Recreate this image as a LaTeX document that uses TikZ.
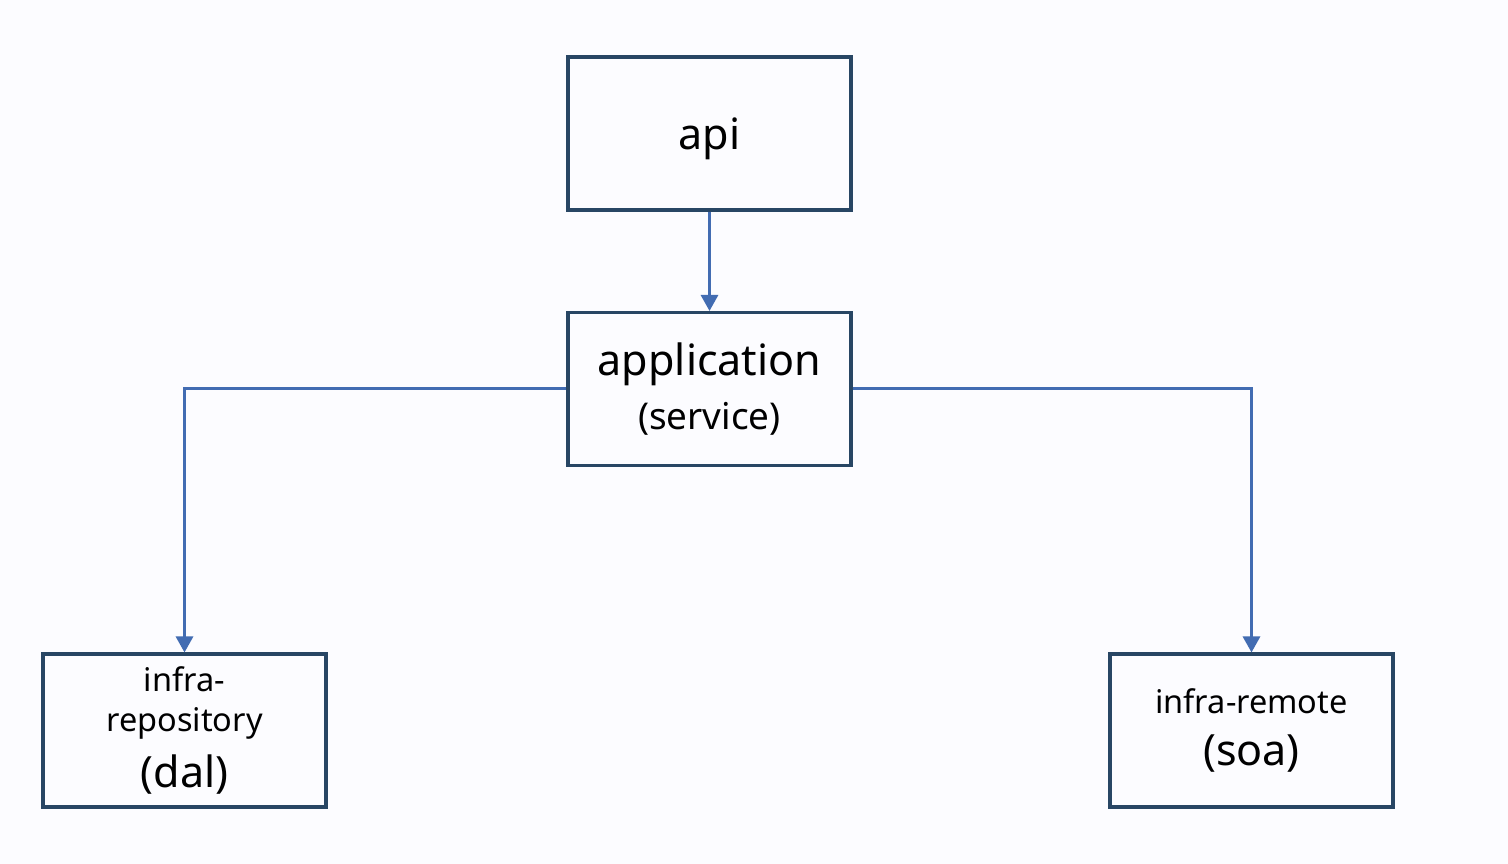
\documentclass[tikz,border=0pt]{standalone}
\usepackage{fontspec}
\setmainfont{Noto Sans}
\usepackage{tikz}
\usetikzlibrary{arrows.meta}
\definecolor{pagebg}{RGB}{252,252,255}
\definecolor{boxline}{RGB}{40,70,100}
\definecolor{linkblue}{RGB}{66,108,178}

\begin{document}
\begin{tikzpicture}[x=0.02cm, y=-0.02cm,
  layer/.style={draw=boxline, line width=0.062cm, fill=pagebg,
                minimum width=5.66cm, minimum height=3.06cm,
                align=center, inner sep=0pt},
  link/.style={draw=linkblue, line width=0.06cm,
               -{Triangle[width=0.34cm, length=0.32cm]}},
]
%% canvas
\fill[pagebg] (0,0) rectangle (1508,864);
\useasboundingbox (0,0) rectangle (1508,864);

%% layers
\node[layer, text depth=0pt, font=\fontsize{24.5}{30}\selectfont] (api)
  at (709.5,133.5) {api};
\node[layer, font=\fontsize{24.5}{31}\selectfont] (app) at (709.5,389)
  {application\\
   {\fontsize{21}{26}\selectfont (service)}};
\node[layer, font=\fontsize{18.5}{23}\selectfont] (repo) at (184.5,730.5)
  {infra-\\
   repository\\[8pt]
   {\fontsize{24.5}{29}\selectfont (dal)}};
\node[layer, font=\fontsize{18.5}{30}\selectfont] (remote) at (1251.5,730.5)
  {infra-remote\\
   {\fontsize{24.5}{29}\selectfont (soa)}};

%% dependencies
\draw[link] (api) -- (app);
\draw[link] (app.west) -| (repo.north);
\draw[link] (app.east) -| (remote.north);
\end{tikzpicture}
\end{document}
